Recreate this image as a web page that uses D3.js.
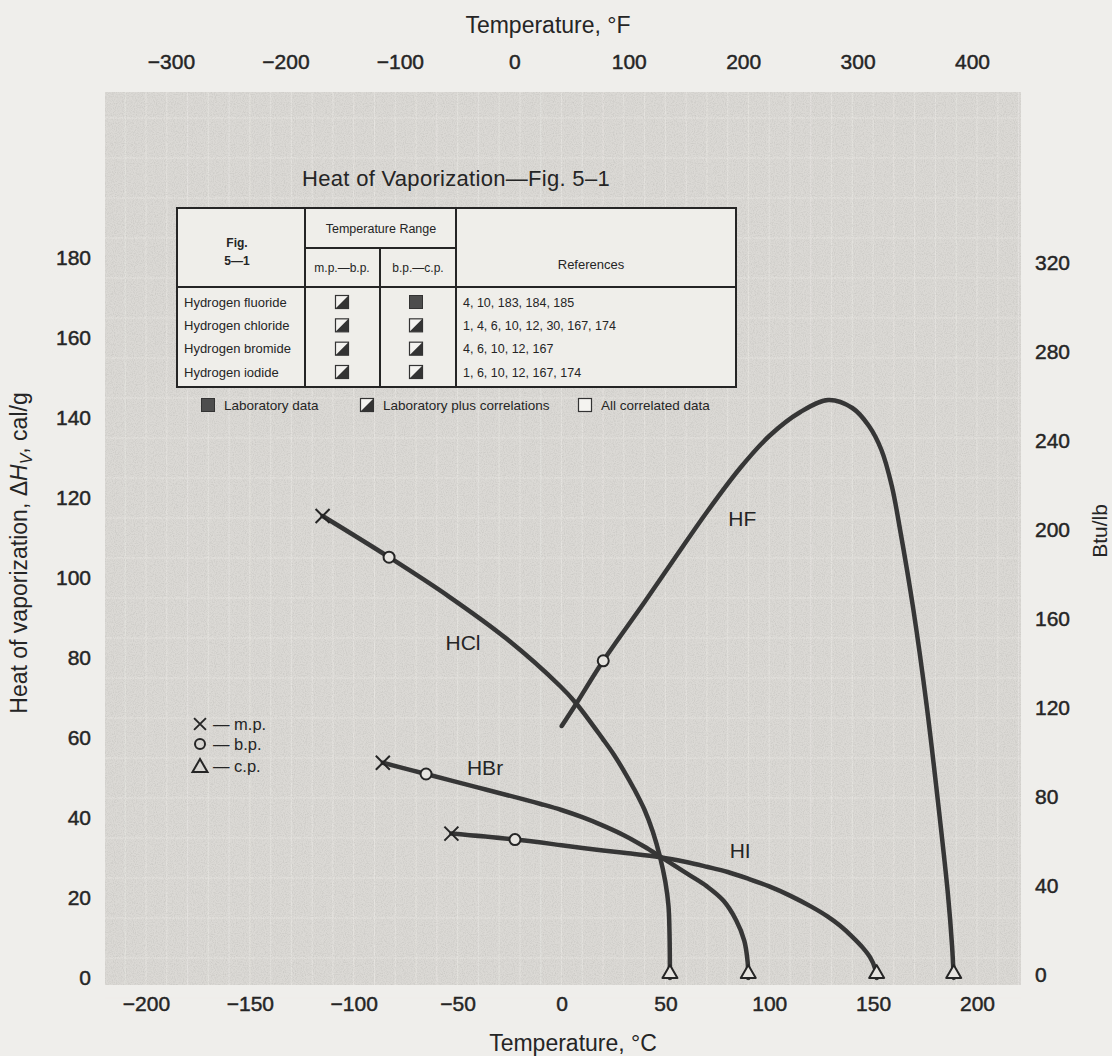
<!DOCTYPE html>
<html>
<head>
<meta charset="utf-8">
<script src="https://cdn.jsdelivr.net/npm/d3@7"></script>
<style>
  body { margin: 0; background: #efeeeb; }
  svg { display: block; font-family: "Liberation Sans", Arial, sans-serif; }
</style>
</head>
<body>
<svg id="chart" width="1112" height="1056"></svg>
<script>
// tick labels
const celsiusTicks = [-200, -150, -100, -50, 0, 50, 100, 150, 200];
const fahrenheitTicks = [-300, -200, -100, 0, 100, 200, 300, 400];
const calTicks = [0, 20, 40, 60, 80, 100, 120, 140, 160, 180];
const btuTicks = [0, 40, 80, 120, 160, 200, 240, 280, 320];

// curves: [temperature °C, heat of vaporization cal/g]
const hfCurve = [[0.1, 63], [7, 68.5], [20.1, 79.3], [40, 94], [55, 105.3], [70, 116.5], [86, 127.5],
  [100, 135.5], [115, 141.5], [128.5, 144.5], [140, 142.5], [148, 138], [154, 132], [159, 123],
  [163, 112], [169.4, 92], [175.8, 68], [182.2, 39.5], [186, 21], [188, 8], [188.8, 0]];
const hclCurve = [[-115, 115.5], [-83, 105.2], [-54, 95.3], [-26.4, 84.8], [-0.7, 73], [7, 68.7],
  [20.1, 59.6], [25, 56], [30, 51.8], [35, 47.2], [40, 42], [44, 36.5], [47.4, 30.3], [50, 24],
  [51.5, 18], [52, 11], [52.2, 0]];
const hbrCurve = [[-86, 53.8], [-65.2, 51], [-40, 47.6], [-20, 44.9], [-10, 43.5], [0, 42], [10, 40.2],
  [20, 38.1], [30, 35.7], [40, 32.8], [47.4, 30.4], [55, 27.9], [62, 25.6], [70, 22.9], [78, 19.3],
  [84, 14.5], [88, 9.3], [89.6, 4], [89.9, 0]];
const hiCurve = [[-53, 36.1], [-22.4, 34.6], [0, 33.2], [15, 32.2], [30, 31.3], [47.4, 30.2], [60, 29],
  [70, 27.8], [80, 26.5], [90, 24.8], [100, 22.9], [110, 20.6], [120, 17.9], [128, 15.4], [134, 13.1],
  [140, 10.3], [145, 7.6], [148.5, 5.2], [151, 2.3], [151.7, 0]];

// marked points
const meltingPoints = [[-115, 115.5], [-86, 53.8], [-53, 36.1]];
const boilingPoints = [[-83, 105.2], [-65.2, 51], [-22.4, 34.6], [20.1, 79.3]];
const criticalPoints = [[52.2, 0], [89.9, 0], [151.7, 0], [188.8, 0]];

const curveNames = ["HF", "HCl", "HBr", "HI"];
const curveLabelAt = [[87, 114.8], [-47.4, 84], [-36.8, 52.7], [86, 32]];

// table of sources
const compounds = ["Hydrogen fluoride", "Hydrogen chloride", "Hydrogen bromide", "Hydrogen iodide"];
const mpToBp = ["mix", "mix", "mix", "mix"];
const bpToCp = ["lab", "mix", "mix", "mix"];
const references = ["4, 10, 183, 184, 185", "1, 4, 6, 10, 12, 30, 167, 174",
  "4, 6, 10, 12, 167", "1, 6, 10, 12, 167, 174"];
const sourceKinds = ["lab", "mix", "none"];
const sourceNames = ["Laboratory data", "Laboratory plus correlations", "All correlated data"];

const ink = "#252525";
const paper = "#dbd9d5";
const fontFamily = "Liberation Sans, Arial, sans-serif";

const svg = d3.select("#chart");

const x = d3.scaleLinear().domain([-200, 200]).range([146, 977]);
const xF = d3.scaleLinear().domain([-300, 400]).range([171, 972]);
const y = d3.scaleLinear().domain([0, 180]).range([978, 258]);
const yB = d3.scaleLinear().domain([0, 320]).range([975, 263]);

// paper grain for the screened area
const defs = svg.append("defs");
const grain = defs.append("filter").attr("id", "grain")
  .attr("x", 0).attr("y", 0).attr("width", "100%").attr("height", "100%");
grain.append("feTurbulence")
  .attr("type", "fractalNoise")
  .attr("baseFrequency", 0.9)
  .attr("numOctaves", 2)
  .attr("seed", 3)
  .attr("result", "noise");
grain.append("feColorMatrix")
  .attr("type", "matrix")
  .attr("values", "0 0 0 0 0.35  0 0 0 0 0.35  0 0 0 0 0.33  -1.6 0 0 0 0.95");

// screened plot area
svg.append("rect")
  .attr("x", 105).attr("y", 92)
  .attr("width", 916).attr("height", 893)
  .attr("fill", paper);

const grid = svg.append("g")
  .attr("stroke", "#eeece8")
  .attr("stroke-width", 1)
  .attr("opacity", 0.55);
grid.selectAll("line.v")
  .data(d3.range(-210, 221, 10))
  .enter().append("line")
  .attr("x1", d => x(d)).attr("x2", d => x(d))
  .attr("y1", 92).attr("y2", 985);
grid.selectAll("line.h")
  .data(d3.range(-5, 221, 10))
  .enter().append("line")
  .attr("x1", 105).attr("x2", 1021)
  .attr("y1", d => y(d)).attr("y2", d => y(d));

svg.append("rect")
  .attr("x", 105).attr("y", 92)
  .attr("width", 916).attr("height", 893)
  .attr("fill", "#fff")
  .attr("filter", "url(#grain)")
  .attr("opacity", 0.35);

// axes, labels only
function styleAxis(g) {
  g.select(".domain").remove();
  g.attr("font-size", 21)
    .attr("font-family", fontFamily);
  g.selectAll("text")
    .attr("fill", ink)
    .attr("stroke", ink)
    .attr("stroke-width", 0.45);
}

svg.append("g")
  .attr("transform", "translate(0,996)")
  .call(d3.axisBottom(x).tickValues(celsiusTicks).tickSize(0).tickPadding(0))
  .call(styleAxis);

svg.append("g")
  .attr("transform", "translate(0,69)")
  .call(d3.axisTop(xF).tickValues(fahrenheitTicks).tickSize(0).tickPadding(0))
  .call(styleAxis);

svg.append("g")
  .attr("transform", "translate(91,0)")
  .call(d3.axisLeft(y).tickValues(calTicks).tickSize(0).tickPadding(0))
  .call(styleAxis);

svg.append("g")
  .attr("transform", "translate(1035,0)")
  .call(d3.axisRight(yB).tickValues(btuTicks).tickSize(0).tickPadding(0))
  .call(styleAxis);

// axis titles
svg.append("text")
  .attr("x", 548).attr("y", 33)
  .attr("text-anchor", "middle")
  .attr("font-size", 23).attr("fill", ink)
  .text("Temperature, °F");

svg.append("text")
  .attr("x", 573).attr("y", 1051)
  .attr("text-anchor", "middle")
  .attr("font-size", 23).attr("fill", ink)
  .text("Temperature, °C");

const yTitle = svg.append("text")
  .attr("transform", "translate(27,553) rotate(-90)")
  .attr("text-anchor", "middle")
  .attr("font-size", 23).attr("fill", ink);
yTitle.append("tspan").text("Heat of vaporization, Δ");
yTitle.append("tspan").attr("font-style", "italic").text("H");
yTitle.append("tspan").attr("font-style", "italic").attr("font-size", 16).attr("dy", 5).text("V");
yTitle.append("tspan").attr("dy", -5).text(", cal/g");

svg.append("text")
  .attr("transform", "translate(1107,531) rotate(-90)")
  .attr("text-anchor", "middle")
  .attr("font-size", 21).attr("fill", ink)
  .text("Btu/lb");

// curves
const line = d3.line()
  .x(d => x(d[0]))
  .y(d => y(d[1]))
  .curve(d3.curveCatmullRom.alpha(0.5));

svg.append("g")
  .selectAll("path")
  .data([hfCurve, hclCurve, hbrCurve, hiCurve])
  .enter().append("path")
  .attr("d", line)
  .attr("fill", "none")
  .attr("stroke", "#363636")
  .attr("stroke-width", 4.5)
  .attr("stroke-linecap", "round");

svg.append("g")
  .selectAll("text")
  .data(curveNames)
  .enter().append("text")
  .attr("x", (d, i) => x(curveLabelAt[i][0]))
  .attr("y", (d, i) => y(curveLabelAt[i][1]))
  .attr("dy", "0.36em")
  .attr("text-anchor", "middle")
  .attr("font-size", 21)
  .attr("fill", ink)
  .text(d => d);

// markers
const crossPath = "M-7,-7L7,7M-7,7L7,-7";
const trianglePath = "M-7.5,0L0,-13L7.5,0Z";

svg.append("g")
  .selectAll("path")
  .data(meltingPoints)
  .enter().append("path")
  .attr("transform", d => `translate(${x(d[0])},${y(d[1])})`)
  .attr("d", crossPath)
  .attr("stroke", ink)
  .attr("stroke-width", 2);

svg.append("g")
  .selectAll("circle")
  .data(boilingPoints)
  .enter().append("circle")
  .attr("cx", d => x(d[0]))
  .attr("cy", d => y(d[1]))
  .attr("r", 5.5)
  .attr("fill", "#e6e4e0")
  .attr("stroke", ink)
  .attr("stroke-width", 2);

svg.append("g")
  .selectAll("path")
  .data(criticalPoints)
  .enter().append("path")
  .attr("transform", d => `translate(${x(d[0])},${y(d[1])})`)
  .attr("d", trianglePath)
  .attr("fill", "#e6e4e0")
  .attr("stroke", ink)
  .attr("stroke-width", 2)
  .attr("stroke-linejoin", "round");

// symbol key
const key = svg.append("g").attr("font-size", 16.5).attr("fill", ink);
key.append("path").attr("transform", "translate(200,724) scale(0.85)")
  .attr("d", crossPath).attr("stroke", ink).attr("stroke-width", 2.2);
key.append("circle").attr("cx", 200).attr("cy", 744).attr("r", 5)
  .attr("fill", "none").attr("stroke", ink).attr("stroke-width", 2);
key.append("path").attr("transform", "translate(200,772)")
  .attr("d", trianglePath).attr("fill", "none").attr("stroke", ink).attr("stroke-width", 2);
[["— m.p.", 724], ["— b.p.", 744], ["— c.p.", 766]].forEach(([t, ty]) => {
  key.append("text").attr("x", 213).attr("y", ty).attr("dy", "0.36em").text(t);
});

// title and source table
svg.append("text")
  .attr("x", 456).attr("y", 186)
  .attr("text-anchor", "middle")
  .attr("font-size", 22)
  .attr("letter-spacing", 0.3)
  .attr("fill", ink)
  .text("Heat of Vaporization—Fig. 5–1");

const tbl = svg.append("g").attr("font-size", 13).attr("fill", ink);
tbl.append("rect")
  .attr("x", 177).attr("y", 208)
  .attr("width", 559).attr("height", 179)
  .attr("fill", "#efeeea")
  .attr("stroke", ink)
  .attr("stroke-width", 2);

[[305, 208, 305, 387], [456, 208, 456, 387], [380, 248, 380, 387], [305, 248, 456, 248], [177, 287, 736, 287]]
  .forEach(([x1, y1, x2, y2]) => {
    tbl.append("line")
      .attr("x1", x1).attr("y1", y1).attr("x2", x2).attr("y2", y2)
      .attr("stroke", ink).attr("stroke-width", 2);
  });

function header(t, hx, hy, size, weight) {
  tbl.append("text")
    .attr("x", hx).attr("y", hy).attr("dy", "0.36em")
    .attr("text-anchor", "middle")
    .attr("font-size", size)
    .attr("font-weight", weight || "normal")
    .text(t);
}
header("Fig.", 237, 243, 12, "bold");
header("5—1", 237, 261, 12, "bold");
header("Temperature Range", 381, 228, 12.5);
header("m.p.—b.p.", 342, 268, 12);
header("b.p.—c.p.", 418, 268, 12);
header("References", 591, 264, 13);

const rowY = d3.scalePoint().domain(compounds).range([302, 372]);

function sourceIcon(g, kind, cx, cy) {
  const s = 13;
  const x0 = cx - s / 2, y0 = cy - s / 2;
  if (kind === "lab") {
    g.append("rect").attr("x", x0).attr("y", y0).attr("width", s).attr("height", s)
      .attr("fill", "#4d4d4d").attr("stroke", "#333").attr("stroke-width", 1);
  } else {
    g.append("rect").attr("x", x0).attr("y", y0).attr("width", s).attr("height", s)
      .attr("fill", "#f4f3f0").attr("stroke", "#333").attr("stroke-width", 1.2);
    if (kind === "mix") {
      g.append("path")
        .attr("d", `M${x0},${y0 + s}L${x0 + s},${y0}L${x0 + s},${y0 + s}Z`)
        .attr("fill", "#333");
    }
  }
}

compounds.forEach((c, i) => {
  const ry = rowY(c);
  tbl.append("text").attr("x", 184).attr("y", ry).attr("dy", "0.36em").text(c);
  sourceIcon(tbl, mpToBp[i], 342, ry);
  sourceIcon(tbl, bpToCp[i], 416, ry);
  tbl.append("text").attr("x", 463).attr("y", ry).attr("dy", "0.36em")
    .attr("font-size", 12.5).text(references[i]);
});

const keyIconX = [208, 367, 585];
sourceKinds.forEach((k, i) => {
  sourceIcon(svg, k, keyIconX[i], 405);
  svg.append("text")
    .attr("x", keyIconX[i] + 16).attr("y", 405).attr("dy", "0.36em")
    .attr("font-size", 13.5).attr("fill", ink)
    .text(sourceNames[i]);
});
</script>
</body>
</html>
